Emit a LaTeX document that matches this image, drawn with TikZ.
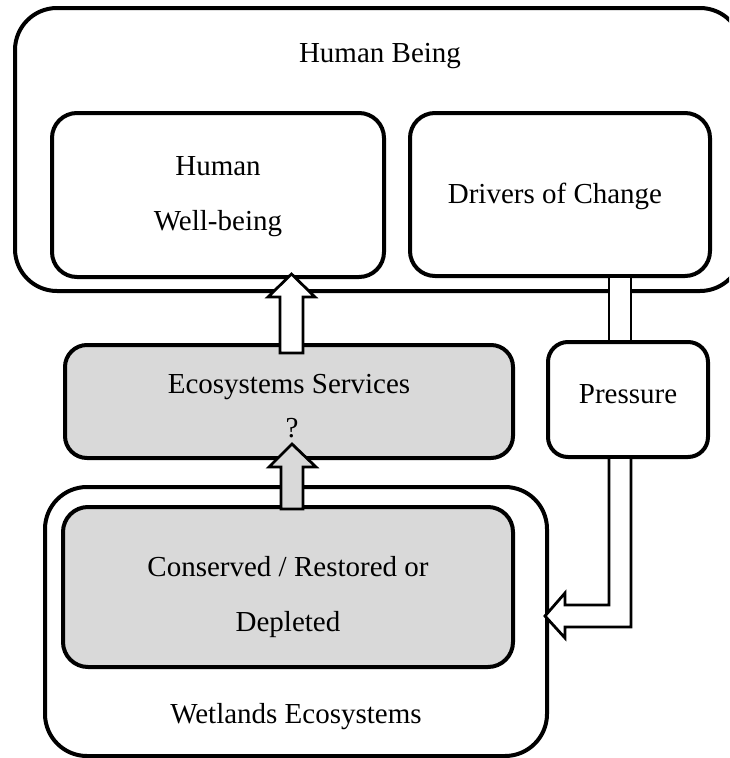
\documentclass[tikz,border=0pt]{standalone}
\usepackage{fontspec}
\setmainfont{Liberation Serif}
\begin{document}
\begin{tikzpicture}[x=1pt,y=-1pt,
  box/.style={draw, line width=4pt, rounded corners=#1, inner sep=0pt, outer sep=0pt},
  box/.default=25pt,
  grey/.style={fill=boxgrey},
  lbl/.style={anchor=base, inner sep=0pt, font=\fontsize{29}{35}\selectfont},
  blockarrow/.style={draw, line width=2.8pt, line join=miter, miter limit=10}
]
\definecolor{boxgrey}{HTML}{D9D9D9}
\useasboundingbox (0,0) rectangle (729,758);
\clip (0,0) rectangle (729,758);

% boxes
\node[box=42pt, minimum width=727pt, minimum height=283pt] (hb) at (378.5,149.5) {};
\node[box, minimum width=332pt, minimum height=164pt] (hwb) at (218,195) {};
\node[box, minimum width=300pt, minimum height=163pt] (doc) at (560,194.5) {};
\node[box=22pt, grey, minimum width=448pt, minimum height=113pt] (es) at (289,401.5) {};
\node[box=20pt, minimum width=160pt, minimum height=115pt] (pr) at (628,399.5) {};
\node[box=42pt, minimum width=502pt, minimum height=269pt] (we) at (296,621.5) {};
\node[box, grey, minimum width=450pt, minimum height=160pt] (cr) at (288,587) {};

% texts
\node[lbl] (thb) at (380,62) {Human Being};
\node[lbl] (th1) at (218,175) {Human};
\node[lbl] (th2) at (218,230) {Well-being};
\node[lbl] (tdoc) at (555,203) {Drivers of Change};
\node[lbl] (tes) at (289,393) {Ecosystems Services};
\node[lbl] (tq) at (292,437) {?};
\node[lbl] (tpr) at (628,403) {Pressure};
\node[lbl] (tcr1) at (288,576) {Conserved / Restored or};
\node[lbl] (tcr2) at (288,631) {Depleted};
\node[lbl] (twe) at (296,723) {Wetlands Ecosystems};

% up arrow: services -> well-being
\coordinate (tip1) at (291.5,274);
\filldraw[blockarrow, fill=white]
  (280,353) -- (280,297) -- (268,297) -- (tip1) -- (315,297) -- (303,297) -- (303,353) -- cycle;

% up arrow: ecosystem -> services
\coordinate (tip2) at (292,444);
\filldraw[blockarrow, fill=boxgrey]
  (281,509) -- (281,467) -- (269,467) -- (tip2) -- (316,467) -- (303,467) -- (303,509) -- cycle;

% pipe drivers -> pressure
\fill[white] (609,278) rectangle (631,340);
\draw[line width=2.8pt] (609,278) -- (609,340) (631,278) -- (631,340);

% bent arrow pressure -> wetlands
\coordinate (tip3) at (545,616);
\filldraw[blockarrow, fill=white]
  (609,459) -- (609,605) -- (565,605) -- (565,593) -- (tip3) -- (565,638) -- (565,627) -- (631,627) -- (631,459);
\end{tikzpicture}
\end{document}
